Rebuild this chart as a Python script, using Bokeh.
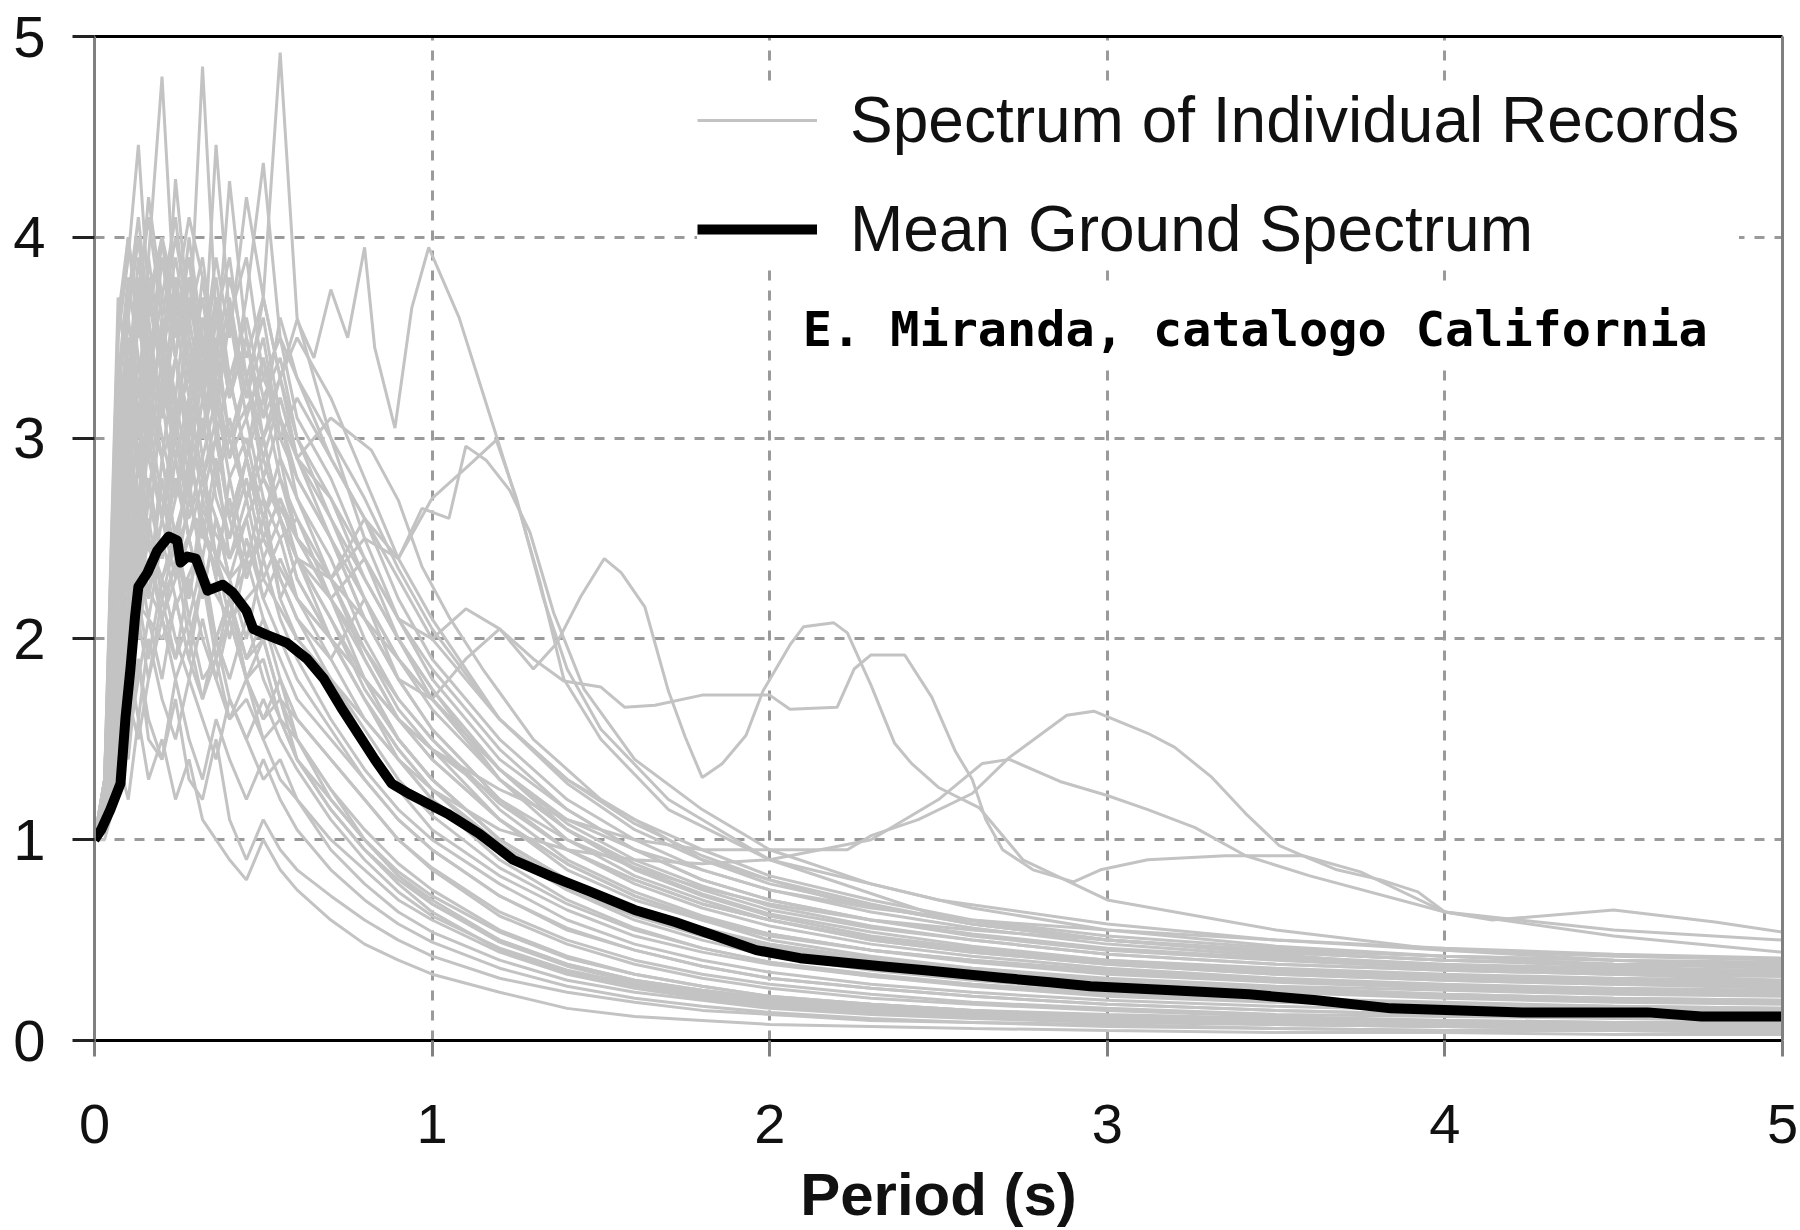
from bokeh.plotting import figure
from bokeh.models import Range1d, FixedTicker, LinearAxis, Legend, LegendItem, Label
from bokeh.embed import file_html
from bokeh.resources import INLINE

# ---------------- data ----------------
x_ticks = [0, 1, 2, 3, 4, 5]
y_ticks = [0, 1, 2, 3, 4, 5]

# common period grid of the individual records (s)
periods = [0.00, 0.03, 0.07, 0.10, 0.13, 0.16, 0.20, 0.24, 0.28, 0.32, 0.36, 0.40,
           0.45, 0.50, 0.55, 0.60, 0.70, 0.80, 0.90, 1.00, 1.20, 1.40, 1.60, 1.80,
           2.00, 2.30, 2.60, 3.00, 3.50, 4.00, 4.50, 5.00]

rec_01 = [1.0, 1.15, 2.9, 3.6, 3.2, 3.9, 4.8, 3.6, 3.9, 3.3, 3.7, 3.2, 3.5, 3.0, 3.3, 2.9, 2.6, 2.2, 1.9, 1.7, 1.35, 1.05, 0.85, 0.72, 0.62, 0.52, 0.46, 0.40, 0.36, 0.33, 0.31, 0.30]
rec_02 = [1.0, 1.2, 2.4, 3.1, 3.8, 3.3, 3.7, 4.1, 3.5, 4.85, 3.6, 3.9, 3.3, 3.6, 3.1, 2.8, 2.5, 2.1, 1.8, 1.55, 1.2, 0.95, 0.80, 0.68, 0.60, 0.50, 0.44, 0.38, 0.33, 0.30, 0.28, 0.27]
rec_03 = [1.0, 1.1, 2.2, 2.9, 3.4, 3.0, 3.6, 3.2, 3.8, 3.4, 3.9, 3.5, 4.2, 3.7, 4.92, 3.6, 3.0, 2.5, 2.1, 1.8, 1.4, 1.15, 0.95, 0.80, 0.70, 0.60, 0.52, 0.45, 0.40, 0.36, 0.34, 0.33]
rec_04 = [1.0, 1.3, 3.5, 3.9, 4.46, 3.7, 4.0, 3.4, 3.8, 3.2, 3.5, 3.0, 3.3, 2.8, 3.1, 2.7, 2.3, 1.9, 1.6, 1.4, 1.1, 0.85, 0.70, 0.60, 0.52, 0.45, 0.40, 0.35, 0.30, 0.27, 0.25, 0.24]
rec_05 = [1.0, 1.1, 2.0, 2.7, 3.3, 2.9, 3.4, 3.0, 3.7, 3.3, 4.46, 3.6, 3.9, 3.3, 3.5, 3.1, 2.8, 2.4, 2.0, 1.75, 1.3, 1.0, 0.82, 0.70, 0.60, 0.50, 0.44, 0.38, 0.33, 0.30, 0.28, 0.26]
rec_06 = [1.0, 1.2, 2.6, 3.3, 2.9, 3.5, 3.1, 3.8, 3.4, 3.0, 3.6, 3.2, 3.7, 4.37, 3.5, 3.3, 2.9, 2.6, 2.2, 1.9, 1.5, 1.2, 1.0, 0.85, 0.75, 0.64, 0.56, 0.48, 0.42, 0.38, 0.36, 0.35]
rec_07 = [1.0, 1.15, 3.0, 3.5, 3.1, 3.7, 3.3, 4.29, 3.6, 3.9, 3.4, 4.28, 3.5, 3.1, 3.3, 3.0, 2.6, 2.3, 2.0, 1.7, 1.3, 1.05, 0.88, 0.75, 0.65, 0.56, 0.50, 0.43, 0.38, 0.35, 0.33, 0.32]
rec_08 = [1.0, 1.25, 3.3, 2.9, 3.6, 3.2, 3.5, 3.0, 3.4, 2.9, 3.2, 2.8, 3.0, 2.6, 2.9, 2.5, 2.2, 1.9, 1.6, 1.4, 1.1, 0.88, 0.72, 0.60, 0.50, 0.42, 0.36, 0.30, 0.26, 0.23, 0.21, 0.20]
rec_09 = [1.0, 1.05, 1.9, 2.6, 3.1, 3.6, 3.1, 3.4, 2.9, 3.3, 2.8, 3.1, 2.7, 3.0, 2.6, 2.4, 2.1, 1.8, 1.5, 1.3, 1.0, 0.80, 0.66, 0.55, 0.47, 0.40, 0.34, 0.29, 0.25, 0.22, 0.20, 0.19]
rec_10 = [1.0, 1.2, 2.7, 2.2, 2.9, 2.5, 3.2, 2.7, 3.0, 2.5, 2.9, 2.4, 2.7, 2.3, 2.5, 2.2, 1.9, 1.6, 1.4, 1.2, 0.95, 0.75, 0.60, 0.50, 0.42, 0.35, 0.30, 0.25, 0.21, 0.19, 0.17, 0.16]
rec_11 = [1.0, 1.1, 2.3, 3.0, 2.6, 3.1, 2.7, 2.4, 2.9, 2.6, 2.3, 2.8, 2.4, 2.7, 2.2, 2.0, 1.8, 1.5, 1.25, 1.05, 0.82, 0.65, 0.52, 0.44, 0.38, 0.32, 0.28, 0.23, 0.20, 0.18, 0.16, 0.15]
rec_12 = [1.0, 1.3, 3.1, 2.6, 2.3, 2.8, 2.4, 2.9, 2.5, 2.2, 2.6, 2.3, 2.0, 2.4, 2.1, 1.9, 1.6, 1.35, 1.15, 1.0, 0.78, 0.60, 0.48, 0.40, 0.34, 0.28, 0.24, 0.20, 0.17, 0.15, 0.14, 0.13]
rec_13 = [1.0, 1.05, 1.6, 2.1, 2.5, 2.2, 2.8, 2.4, 2.2, 2.6, 2.3, 2.0, 2.4, 2.1, 1.9, 1.7, 1.5, 1.3, 1.1, 0.95, 0.72, 0.55, 0.45, 0.37, 0.31, 0.26, 0.22, 0.18, 0.15, 0.13, 0.12, 0.11]
rec_14 = [1.0, 1.2, 2.5, 2.0, 2.4, 2.1, 2.5, 2.2, 1.9, 2.3, 2.0, 2.2, 1.9, 2.1, 1.8, 1.6, 1.4, 1.2, 1.0, 0.85, 0.62, 0.48, 0.38, 0.31, 0.26, 0.21, 0.18, 0.15, 0.12, 0.10, 0.09, 0.09]
rec_15 = [1.0, 1.1, 2.0, 2.4, 2.1, 2.6, 2.2, 2.5, 2.1, 2.4, 2.0, 1.8, 2.1, 1.8, 1.6, 1.5, 1.25, 1.05, 0.88, 0.75, 0.55, 0.42, 0.33, 0.27, 0.22, 0.18, 0.15, 0.12, 0.10, 0.09, 0.08, 0.07]
rec_16 = [1.0, 1.05, 1.5, 1.9, 1.6, 2.0, 1.7, 1.5, 1.8, 1.6, 1.4, 1.7, 1.5, 1.3, 1.4, 1.2, 1.0, 0.85, 0.70, 0.60, 0.44, 0.33, 0.26, 0.21, 0.17, 0.14, 0.12, 0.10, 0.08, 0.07, 0.06, 0.06]
rec_17 = [1.0, 1.1, 1.3, 1.6, 1.9, 1.5, 1.4, 1.7, 1.3, 1.2, 1.5, 1.1, 0.9, 1.1, 0.95, 0.85, 0.72, 0.60, 0.50, 0.42, 0.31, 0.24, 0.19, 0.15, 0.13, 0.10, 0.09, 0.07, 0.06, 0.05, 0.05, 0.04]
rec_18 = [1.0, 1.05, 1.4, 1.2, 1.6, 1.3, 1.5, 1.2, 1.4, 1.1, 1.0, 0.9, 0.8, 1.0, 0.85, 0.75, 0.60, 0.48, 0.40, 0.33, 0.24, 0.16, 0.12, 0.10, 0.08, 0.07, 0.06, 0.05, 0.04, 0.04, 0.03, 0.03]
rec_19 = [1.0, 1.15, 2.2, 2.8, 3.3, 2.9, 2.6, 3.0, 2.7, 3.1, 2.7, 2.5, 2.8, 2.4, 2.6, 2.3, 2.0, 1.7, 1.45, 1.25, 0.98, 0.78, 0.64, 0.54, 0.46, 0.39, 0.34, 0.28, 0.24, 0.21, 0.19, 0.18]
rec_20 = [1.0, 1.1, 1.8, 2.3, 2.7, 3.0, 2.6, 3.2, 2.8, 3.5, 3.0, 3.3, 2.9, 3.4, 3.0, 3.2, 2.9, 2.6, 2.3, 2.0, 1.6, 1.3, 1.1, 0.95, 0.82, 0.70, 0.60, 0.52, 0.46, 0.42, 0.40, 0.38]
rec_21 = [1.0, 1.3, 3.6, 4.0, 3.5, 3.8, 3.3, 3.0, 2.6, 2.9, 2.4, 2.2, 1.9, 2.0, 1.7, 1.5, 1.2, 1.0, 0.82, 0.70, 0.50, 0.38, 0.30, 0.25, 0.21, 0.17, 0.14, 0.12, 0.10, 0.08, 0.07, 0.07]
rec_22 = [1.0, 1.25, 2.8, 3.4, 3.0, 3.3, 2.9, 2.5, 2.8, 2.3, 2.0, 2.2, 1.8, 1.6, 1.7, 1.4, 1.15, 0.95, 0.78, 0.64, 0.45, 0.34, 0.27, 0.22, 0.18, 0.15, 0.12, 0.10, 0.08, 0.07, 0.06, 0.06]
rec_23 = [1.0, 1.2, 2.4, 3.1, 3.6, 3.2, 3.9, 3.4, 3.1, 3.6, 3.2, 2.9, 3.1, 2.7, 2.5, 2.6, 2.2, 1.8, 1.5, 1.3, 1.0, 0.80, 0.65, 0.55, 0.48, 0.41, 0.36, 0.31, 0.27, 0.25, 0.23, 0.22]
rec_24 = [1.0, 1.05, 1.7, 2.1, 2.4, 2.2, 2.6, 2.3, 2.7, 2.4, 2.8, 2.5, 2.9, 2.6, 2.8, 2.5, 2.3, 2.1, 1.9, 1.7, 1.35, 1.1, 0.95, 0.85, 0.75, 0.66, 0.60, 0.55, 0.50, 0.46, 0.43, 0.41]
rec_25 = [1.0, 1.15, 2.1, 1.8, 2.2, 2.5, 2.1, 2.4, 2.0, 2.3, 1.9, 2.2, 1.8, 1.9, 1.6, 1.4, 1.15, 0.95, 0.80, 0.68, 0.50, 0.38, 0.30, 0.25, 0.21, 0.18, 0.15, 0.13, 0.11, 0.10, 0.09, 0.08]
rec_26 = [1.0, 1.3, 3.2, 3.7, 4.1, 3.6, 4.0, 3.7, 4.1, 3.8, 3.4, 3.8, 3.4, 3.7, 3.3, 3.5, 3.2, 2.8, 2.4, 2.1, 1.6, 1.3, 1.08, 0.92, 0.80, 0.68, 0.58, 0.50, 0.44, 0.40, 0.38, 0.37]
rec_27 = [1.0, 1.1, 1.6, 1.9, 2.2, 1.9, 2.3, 2.0, 1.8, 2.1, 1.8, 1.6, 1.8, 1.5, 1.3, 1.2, 0.95, 0.78, 0.64, 0.54, 0.40, 0.30, 0.24, 0.20, 0.16, 0.13, 0.11, 0.09, 0.08, 0.07, 0.06, 0.05]
rec_28 = [1.0, 1.2, 2.6, 3.2, 2.8, 3.4, 3.0, 2.7, 3.2, 2.8, 3.1, 2.6, 2.3, 2.6, 2.3, 2.1, 1.8, 1.55, 1.3, 1.12, 0.86, 0.68, 0.55, 0.46, 0.39, 0.33, 0.28, 0.24, 0.20, 0.18, 0.17, 0.16]
rec_29 = [1.0, 1.1, 1.9, 2.5, 2.2, 2.7, 2.4, 2.8, 2.5, 2.2, 2.6, 2.3, 2.6, 2.2, 2.4, 2.2, 2.0, 1.8, 1.6, 1.45, 1.2, 1.0, 0.86, 0.76, 0.68, 0.60, 0.55, 0.50, 0.45, 0.42, 0.40, 0.39]
rec_30 = [1.0, 1.0, 1.25, 1.5, 1.8, 2.1, 1.8, 2.2, 1.9, 1.7, 2.0, 1.7, 1.5, 1.7, 1.5, 1.35, 1.1, 0.90, 0.74, 0.62, 0.46, 0.35, 0.28, 0.23, 0.19, 0.16, 0.13, 0.11, 0.09, 0.08, 0.07, 0.07]
rec_31 = [1.0, 1.2, 3.4, 3.0, 3.7, 3.3, 4.0, 3.5, 3.9, 3.4, 3.8, 3.3, 3.6, 3.2, 3.4, 3.0, 2.7, 2.3, 2.0, 1.75, 1.35, 1.08, 0.90, 0.77, 0.67, 0.57, 0.50, 0.43, 0.38, 0.35, 0.33, 0.32]
rec_32 = [1.0, 1.15, 2.8, 3.5, 3.0, 3.9, 3.4, 3.8, 3.3, 3.7, 3.2, 3.6, 3.1, 3.4, 2.9, 2.7, 2.4, 2.0, 1.7, 1.5, 1.15, 0.90, 0.74, 0.62, 0.53, 0.45, 0.39, 0.33, 0.29, 0.26, 0.24, 0.23]
rec_33 = [1.0, 1.1, 2.3, 1.9, 2.6, 2.2, 2.9, 2.5, 2.2, 2.7, 2.4, 2.1, 2.5, 2.2, 2.0, 1.8, 1.55, 1.3, 1.1, 0.95, 0.72, 0.56, 0.45, 0.37, 0.31, 0.26, 0.22, 0.18, 0.15, 0.13, 0.12, 0.11]
rec_34 = [1.0, 1.25, 3.0, 3.6, 4.0, 3.5, 3.1, 3.6, 3.2, 3.8, 3.3, 3.7, 3.2, 3.5, 3.0, 2.8, 2.5, 2.2, 1.9, 1.65, 1.3, 1.05, 0.86, 0.73, 0.63, 0.54, 0.47, 0.40, 0.35, 0.32, 0.30, 0.29]
rec_35 = [1.0, 1.1, 1.7, 1.4, 1.9, 1.6, 1.4, 1.8, 1.5, 1.3, 1.6, 1.4, 1.2, 1.4, 1.2, 1.05, 0.85, 0.70, 0.58, 0.49, 0.36, 0.27, 0.21, 0.17, 0.14, 0.11, 0.09, 0.08, 0.06, 0.05, 0.05, 0.04]
rec_36 = [1.0, 1.2, 2.9, 2.5, 3.1, 2.7, 3.3, 2.9, 3.2, 2.8, 3.0, 2.6, 2.9, 2.5, 2.7, 2.4, 2.1, 1.75, 1.5, 1.3, 1.0, 0.80, 0.66, 0.56, 0.48, 0.40, 0.35, 0.30, 0.26, 0.23, 0.21, 0.20]
rec_37 = [1.0, 1.3, 3.7, 3.3, 3.9, 3.4, 3.2, 3.7, 3.3, 3.0, 3.4, 3.0, 2.7, 3.0, 2.6, 2.4, 2.0, 1.7, 1.4, 1.2, 0.90, 0.70, 0.56, 0.46, 0.39, 0.32, 0.27, 0.22, 0.19, 0.17, 0.15, 0.14]
rec_38 = [1.0, 1.05, 1.5, 2.0, 2.4, 2.8, 2.4, 2.7, 3.1, 2.7, 3.0, 2.6, 2.9, 2.5, 2.7, 2.5, 2.2, 1.95, 1.7, 1.5, 1.18, 0.95, 0.80, 0.68, 0.60, 0.51, 0.45, 0.39, 0.34, 0.31, 0.29, 0.28]
rec_39 = [1.0, 1.15, 2.5, 3.2, 3.7, 4.1, 3.6, 4.0, 3.6, 3.2, 3.7, 3.3, 2.9, 3.2, 2.8, 2.6, 2.3, 1.95, 1.65, 1.45, 1.1, 0.88, 0.72, 0.61, 0.53, 0.45, 0.40, 0.34, 0.30, 0.27, 0.25, 0.24]
rec_40 = [1.0, 1.1, 2.0, 1.7, 2.1, 1.8, 2.2, 1.9, 2.1, 1.8, 1.9, 1.6, 1.7, 1.5, 1.6, 1.4, 1.2, 1.0, 0.84, 0.72, 0.54, 0.41, 0.33, 0.27, 0.22, 0.18, 0.15, 0.12, 0.10, 0.09, 0.08, 0.07]
rec_41 = [1.0, 1.25, 3.2, 2.8, 3.4, 3.0, 3.6, 3.1, 3.5, 3.0, 3.3, 2.9, 3.3, 2.9, 3.2, 2.9, 2.7, 2.4, 2.1, 1.85, 1.45, 1.15, 0.95, 0.80, 0.70, 0.60, 0.53, 0.46, 0.41, 0.37, 0.35, 0.34]
rec_42 = [1.0, 1.1, 2.6, 2.2, 2.0, 2.4, 2.1, 1.9, 2.3, 2.0, 1.8, 2.1, 1.8, 1.6, 1.8, 1.5, 1.25, 1.0, 0.82, 0.68, 0.49, 0.37, 0.29, 0.24, 0.20, 0.16, 0.13, 0.11, 0.09, 0.08, 0.07, 0.06]
rec_43 = [1.0, 1.2, 3.5, 4.0, 3.6, 4.2, 3.7, 3.4, 4.0, 3.5, 3.2, 3.6, 3.3, 3.0, 3.2, 2.9, 2.5, 2.1, 1.8, 1.55, 1.2, 0.95, 0.78, 0.66, 0.57, 0.48, 0.42, 0.36, 0.31, 0.28, 0.26, 0.25]
rec_44 = [1.0, 1.05, 1.4, 1.7, 1.5, 1.8, 2.1, 1.8, 2.0, 1.7, 1.9, 2.1, 1.8, 2.0, 1.7, 1.6, 1.4, 1.2, 1.0, 0.86, 0.64, 0.50, 0.40, 0.33, 0.28, 0.23, 0.19, 0.16, 0.13, 0.12, 0.11, 0.10]
rec_45 = [1.0, 1.15, 2.4, 2.9, 2.5, 3.0, 2.6, 3.1, 2.7, 3.2, 2.8, 3.0, 2.7, 2.9, 2.6, 2.3, 2.0, 1.7, 1.45, 1.25, 0.95, 0.75, 0.62, 0.52, 0.45, 0.38, 0.33, 0.28, 0.24, 0.22, 0.20, 0.19]
rec_46 = [1.0, 1.3, 3.3, 3.8, 3.4, 3.1, 3.5, 3.9, 3.5, 3.2, 3.6, 3.2, 3.5, 3.1, 3.6, 3.3, 3.0, 2.7, 2.35, 2.05, 1.6, 1.28, 1.05, 0.90, 0.78, 0.67, 0.58, 0.50, 0.44, 0.40, 0.38, 0.37]

grid_records = [rec_01, rec_02, rec_03, rec_04, rec_05, rec_06, rec_07, rec_08, rec_09, rec_10,
                rec_11, rec_12, rec_13, rec_14, rec_15, rec_16, rec_17, rec_18, rec_19, rec_20,
                rec_21, rec_22, rec_23, rec_24, rec_25, rec_26, rec_27, rec_28, rec_29, rec_30,
                rec_31, rec_32, rec_33, rec_34, rec_35, rec_36, rec_37, rec_38, rec_39, rec_40,
                rec_41, rec_42, rec_43, rec_44, rec_45, rec_46]

# records with their own period sampling (the visible outliers)
rec_a_T = [0, 0.03, 0.07, 0.10, 0.13, 0.16, 0.20, 0.24, 0.28, 0.32, 0.36, 0.40, 0.45, 0.50, 0.55, 0.60, 0.65, 0.70, 0.75, 0.80, 0.83, 0.89, 0.94, 0.99, 1.08, 1.17, 1.25, 1.32, 1.39, 1.50, 1.70, 2.00, 2.50, 3.00, 3.50, 4.00, 4.50, 5.00]
rec_a = [1.0, 1.1, 2.5, 3.0, 2.7, 3.2, 2.9, 3.4, 3.0, 3.5, 3.1, 3.6, 3.2, 3.7, 3.3, 3.59, 3.4, 3.74, 3.5, 3.95, 3.45, 3.05, 3.65, 3.95, 3.6, 3.12, 2.69, 2.28, 1.8, 1.5, 1.15, 0.9, 0.7, 0.58, 0.5, 0.45, 0.42, 0.40]
rec_b_T = [0, 0.03, 0.07, 0.10, 0.13, 0.16, 0.20, 0.24, 0.28, 0.32, 0.36, 0.40, 0.45, 0.50, 0.55, 0.60, 0.70, 0.80, 0.90, 0.97, 1.05, 1.10, 1.16, 1.23, 1.29, 1.36, 1.45, 1.60, 1.80, 2.00, 2.30, 2.60, 3.00, 3.50, 4.00, 4.50, 5.00]
rec_b = [1.0, 1.15, 2.2, 2.8, 2.4, 3.0, 2.6, 2.9, 2.5, 2.8, 2.4, 2.7, 2.3, 2.6, 2.2, 2.4, 2.3, 2.5, 2.4, 2.65, 2.6, 2.96, 2.89, 2.74, 2.53, 2.13, 1.75, 1.4, 1.15, 0.95, 0.78, 0.66, 0.55, 0.47, 0.42, 0.38, 0.36]
rec_c_T = [0, 0.03, 0.07, 0.12, 0.20, 0.30, 0.40, 0.50, 0.60, 0.70, 0.80, 0.90, 1.00, 1.10, 1.19, 1.25, 1.33, 1.40, 1.50, 1.70, 2.00, 2.50, 3.00, 4.00, 5.00]
rec_c = [1.0, 1.1, 2.0, 2.7, 2.3, 2.9, 2.4, 2.8, 2.5, 2.3, 2.6, 2.4, 2.7, 2.85, 2.99, 2.7, 2.2, 1.85, 1.55, 1.2, 0.9, 0.62, 0.5, 0.36, 0.30]
rec_d_T = [0, 0.03, 0.07, 0.12, 0.20, 0.30, 0.40, 0.50, 0.60, 0.70, 0.82, 0.90, 0.97, 1.05, 1.15, 1.30, 1.50, 1.80, 2.20, 2.60, 3.00, 3.50, 4.00, 5.00]
rec_d = [1.0, 1.2, 2.6, 3.3, 2.9, 3.4, 3.0, 3.3, 2.9, 3.1, 2.94, 2.69, 2.36, 2.11, 1.85, 1.5, 1.2, 0.9, 0.7, 0.58, 0.5, 0.44, 0.40, 0.34]
rec_e_T = [0, 0.03, 0.07, 0.12, 0.20, 0.30, 0.40, 0.50, 0.60, 0.70, 0.80, 0.90, 1.00, 1.10, 1.20, 1.30, 1.37, 1.44, 1.51, 1.56, 1.63, 1.70, 1.75, 1.80, 1.86, 1.93, 1.98, 2.06, 2.10, 2.19, 2.23, 2.30, 2.37, 2.42, 2.50, 2.62, 2.75, 3.00, 3.50, 4.00, 4.50, 5.00]
rec_e = [1.0, 1.05, 1.8, 2.4, 2.1, 2.6, 2.2, 2.5, 2.1, 1.9, 2.2, 1.8, 1.7, 1.9, 2.05, 1.85, 1.98, 2.21, 2.40, 2.33, 2.16, 1.74, 1.51, 1.31, 1.38, 1.52, 1.74, 1.97, 2.06, 2.08, 2.03, 1.77, 1.48, 1.38, 1.26, 1.16, 0.9, 0.7, 0.55, 0.45, 0.40, 0.36]
rec_f_T = [0, 0.03, 0.07, 0.12, 0.20, 0.30, 0.40, 0.50, 0.60, 0.70, 0.80, 0.90, 1.00, 1.10, 1.20, 1.30, 1.39, 1.50, 1.57, 1.66, 1.80, 2.00, 2.06, 2.20, 2.25, 2.30, 2.40, 2.48, 2.55, 2.60, 2.64, 2.69, 2.78, 2.90, 2.98, 3.12, 3.35, 3.58, 3.75, 4.00, 4.14, 4.50, 4.80, 5.00]
rec_f = [1.0, 1.1, 2.1, 2.6, 2.3, 2.7, 2.4, 2.8, 2.4, 2.2, 2.4, 2.1, 2.0, 2.15, 2.05, 1.9, 1.79, 1.76, 1.66, 1.67, 1.72, 1.72, 1.65, 1.66, 1.85, 1.92, 1.92, 1.71, 1.44, 1.3, 1.10, 0.95, 0.85, 0.79, 0.85, 0.90, 0.92, 0.92, 0.84, 0.64, 0.60, 0.65, 0.59, 0.54]
rec_g_T = [0, 0.03, 0.07, 0.12, 0.20, 0.30, 0.40, 0.50, 0.60, 0.70, 0.80, 0.90, 1.00, 1.20, 1.40, 1.60, 1.80, 2.00, 2.23, 2.30, 2.44, 2.60, 2.71, 2.88, 2.96, 3.12, 3.20, 3.31, 3.41, 3.51, 3.58, 3.68, 3.81, 3.92, 4.00, 4.50, 5.00]
rec_g = [1.0, 1.1, 1.9, 2.5, 2.2, 2.6, 2.3, 2.5, 2.2, 2.0, 1.8, 1.6, 1.45, 1.25, 1.1, 1.0, 0.95, 0.95, 0.95, 1.02, 1.10, 1.23, 1.41, 1.62, 1.64, 1.53, 1.46, 1.31, 1.13, 0.97, 0.92, 0.85, 0.80, 0.74, 0.64, 0.55, 0.50]
rec_h_T = [0, 0.03, 0.07, 0.12, 0.20, 0.30, 0.40, 0.50, 0.60, 0.70, 0.80, 0.90, 1.00, 1.20, 1.40, 1.60, 1.80, 2.00, 2.30, 2.50, 2.63, 2.71, 2.86, 3.00, 3.12, 3.26, 3.41, 3.60, 4.00, 4.50, 5.00]
rec_h = [1.0, 1.05, 1.7, 2.2, 2.0, 2.4, 2.1, 2.3, 2.0, 1.8, 1.6, 1.4, 1.25, 1.05, 0.95, 0.9, 0.88, 0.9, 1.0, 1.2, 1.38, 1.40, 1.29, 1.22, 1.15, 1.06, 0.92, 0.82, 0.64, 0.52, 0.44]

own_T = [rec_a_T, rec_b_T, rec_c_T, rec_d_T, rec_e_T, rec_f_T, rec_g_T, rec_h_T]
own_Sa = [rec_a, rec_b, rec_c, rec_d, rec_e, rec_f, rec_g, rec_h]

# mean ground spectrum
mean_T = [0.0, 0.02, 0.047, 0.077, 0.092, 0.107, 0.12, 0.13, 0.157, 0.186, 0.22, 0.245, 0.255, 0.275, 0.30,
          0.335, 0.38, 0.41, 0.45, 0.47, 0.51, 0.57, 0.63, 0.68, 0.73, 0.78, 0.83, 0.88, 0.93, 1.045,
          1.14, 1.24, 1.35, 1.47, 1.60, 1.72, 1.84, 1.96, 2.09, 2.21, 2.33, 2.46, 2.58, 2.70, 2.83,
          2.95, 3.07, 3.19, 3.42, 3.62, 3.84, 4.23, 4.60, 4.76, 5.0]
mean_Sa = [1.0, 1.05, 1.15, 1.28, 1.61, 1.86, 2.11, 2.26, 2.33, 2.44, 2.51, 2.49, 2.38, 2.41, 2.40,
           2.24, 2.27, 2.23, 2.14, 2.05, 2.02, 1.98, 1.90, 1.80, 1.66, 1.53, 1.40, 1.28, 1.23, 1.13,
           1.03, 0.90, 0.82, 0.74, 0.65, 0.59, 0.52, 0.45, 0.41, 0.39, 0.37, 0.35, 0.33, 0.31, 0.29,
           0.27, 0.26, 0.25, 0.23, 0.20, 0.16, 0.14, 0.14, 0.12, 0.12]

for r in grid_records:
    assert len(r) == len(periods), len(r)
for t, s in zip(own_T, own_Sa):
    assert len(t) == len(s), (len(t), len(s))
assert len(mean_T) == len(mean_Sa)

xs = [periods for _ in grid_records] + own_T
ys = grid_records + own_Sa

# ---------------- figure ----------------
p = figure(width=1800, height=1230, x_range=Range1d(0, 5), y_range=Range1d(0, 5),
           output_backend="svg", toolbar_location=None,
           min_border_left=94, min_border_right=18, min_border_top=36, min_border_bottom=189)
p.outline_line_color = None
p.background_fill_color = "white"
p.border_fill_color = "white"

TICK_FONT = "Liberation Sans"

xa = p.xaxis[0]
xa.ticker = FixedTicker(ticks=x_ticks)
xa.axis_line_color = "black"
xa.axis_line_width = 3
xa.major_tick_line_color = "#808080"
xa.major_tick_line_width = 3
xa.major_tick_out = 16
xa.major_tick_in = 0
xa.minor_tick_line_color = None
xa.major_label_text_font = TICK_FONT
xa.major_label_text_font_size = "56px"
xa.major_label_text_color = "#111111"
xa.major_label_standoff = 48
xa.axis_label = "Period (s)"
xa.axis_label_text_font = TICK_FONT
xa.axis_label_text_font_style = "bold"
xa.axis_label_text_font_size = "60px"
xa.axis_label_text_color = "#111111"
xa.axis_label_standoff = 15

ya = p.yaxis[0]
ya.ticker = FixedTicker(ticks=y_ticks)
ya.axis_line_color = "#808080"
ya.axis_line_width = 3
ya.major_tick_line_color = "#222222"
ya.major_tick_line_width = 3
ya.major_tick_out = 22
ya.major_tick_in = 0
ya.minor_tick_line_color = None
ya.major_label_text_font = TICK_FONT
ya.major_label_text_font_size = "58px"
ya.major_label_text_color = "#111111"
ya.major_label_standoff = 27

top_axis = LinearAxis(ticker=FixedTicker(ticks=[]), axis_line_color="black", axis_line_width=3,
                      major_tick_line_color=None, minor_tick_line_color=None,
                      major_label_text_font_size="0px")
right_axis = LinearAxis(ticker=FixedTicker(ticks=[]), axis_line_color="#808080", axis_line_width=3,
                        major_tick_line_color=None, minor_tick_line_color=None,
                        major_label_text_font_size="0px")
p.add_layout(top_axis, "above")
p.add_layout(right_axis, "right")

for g in (p.xgrid[0], p.ygrid[0]):
    g.grid_line_color = "#9a9a9a"
    g.grid_line_width = 3
    g.grid_line_dash = "10 10"
p.xgrid[0].ticker = FixedTicker(ticks=x_ticks)
p.ygrid[0].ticker = FixedTicker(ticks=y_ticks)

r_rec = p.multi_line(xs=xs, ys=ys, line_color="#c3c3c3", line_width=3)
r_mean = p.line(mean_T, mean_Sa, line_color="black", line_width=10, line_join="round")

legend = Legend(items=[LegendItem(label="Spectrum of Individual Records", renderers=[r_rec]),
                       LegendItem(label="Mean Ground Spectrum", renderers=[r_mean])],
                location=(603, 774), orientation="vertical",
                glyph_width=120, glyph_height=60, label_standoff=33,
                label_text_font=TICK_FONT, label_text_font_size="64px",
                label_text_color="#111111", spacing=35, padding=12, margin=0,
                border_line_color=None, background_fill_color="white", background_fill_alpha=1.0)
p.add_layout(legend)

note = Label(x=2.062, y=3.541, text="E. Miranda, catalogo California",
             text_font="DejaVu Sans Mono", text_font_style="bold", text_font_size="48.5px",
             text_color="black", text_baseline="middle", text_align="left",
             background_fill_color="white", padding=12)
p.add_layout(note)

open("out.html", "w").write(file_html(p, INLINE))
